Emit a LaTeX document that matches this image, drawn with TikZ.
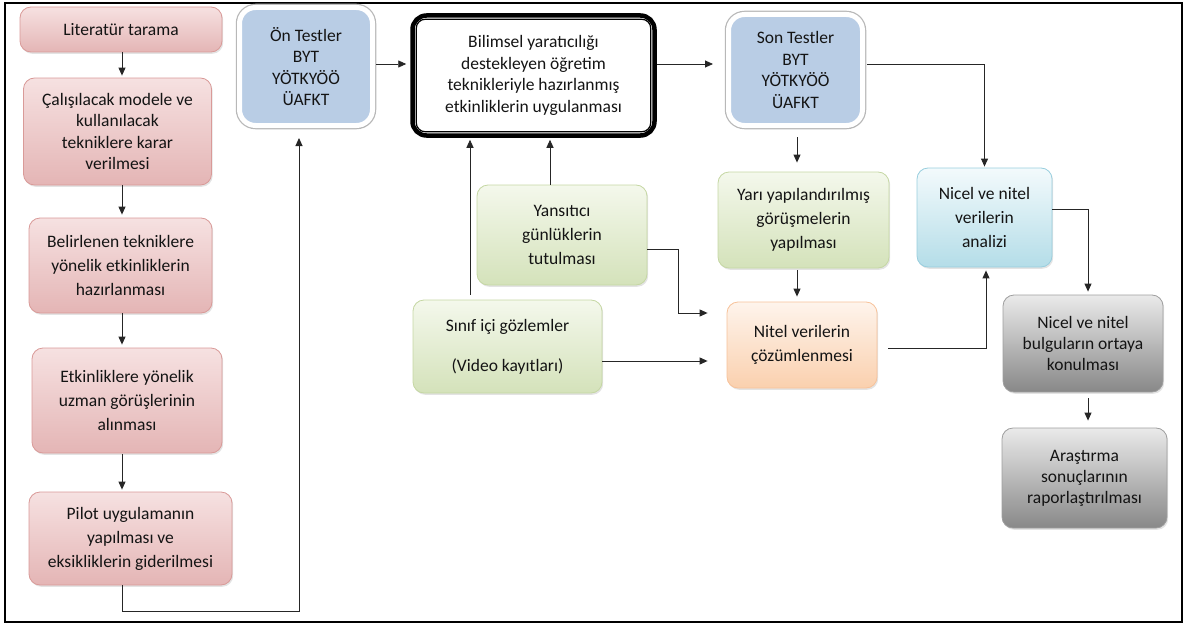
\documentclass[tikz,border=0pt]{standalone}
\usepackage{fontspec}
\setmainfont{Carlito}
\usetikzlibrary{arrows.meta,shadows}

\definecolor{pinktop}{HTML}{F6E1E1}
\definecolor{pinkbot}{HTML}{E4B5B5}
\definecolor{pinkline}{HTML}{D99A98}
\definecolor{greentop}{HTML}{F4F8EC}
\definecolor{greenbot}{HTML}{D4E2BA}
\definecolor{greenline}{HTML}{C5D7A3}
\definecolor{peachtop}{HTML}{FEF4EC}
\definecolor{peachbot}{HTML}{FAD0AE}
\definecolor{peachline}{HTML}{F7C29A}
\definecolor{cyantop}{HTML}{F3FAFC}
\definecolor{cyanbot}{HTML}{B4DDE8}
\definecolor{cyanline}{HTML}{98CEDE}
\definecolor{graytop}{HTML}{EAEAEA}
\definecolor{graybot}{HTML}{888888}
\definecolor{grayline}{HTML}{9E9E9E}
\definecolor{testblue}{HTML}{B9CDE5}

\begin{document}
\begin{tikzpicture}[x=1pt,y=-1pt,
  sz/.style 2 args={minimum width=#1pt, minimum height=#2pt},
  box/.style={rounded corners=11pt, inner sep=0pt, align=center,
    font=\fontsize{17.5}{24}\selectfont, text=black!92,
    drop shadow={shadow xshift=1.2pt, shadow yshift=-1.8pt, opacity=0.22}},
  tight/.style={font=\fontsize{17.5}{21.5}\selectfont},
  pinkbox/.style={box, draw=pinkline, line width=0.8pt, top color=pinktop, bottom color=pinkbot},
  greenbox/.style={box, draw=greenline, line width=0.8pt, top color=greentop, bottom color=greenbot},
  peachbox/.style={box, draw=peachline, line width=0.8pt, top color=peachtop, bottom color=peachbot},
  cyanbox/.style={box, draw=cyanline, line width=0.8pt, top color=cyantop, bottom color=cyanbot},
  graybox/.style={box, draw=grayline, line width=0.8pt, top color=graytop, bottom color=graybot},
  testbox/.style={box, tight, rounded corners=16pt, fill=testblue, draw=white, line width=5pt,
    preaction={draw=black!28, line width=7.5pt},
    drop shadow={shadow xshift=1.5pt, shadow yshift=-2.5pt, opacity=0.3}},
  mainbox/.style={box, tight, fill=white, draw=black, line width=4.5pt, rounded corners=14pt},
  arr/.style={draw=black!85, line width=0.9pt, -{Triangle[length=8pt,width=7pt]}}
]
\useasboundingbox (0,0) rectangle (1188,626);
\draw[line width=2pt] (5,3) rectangle (1182,622);

% left column: preparation steps
\node[pinkbox, sz={202}{45}] (lit) at (121,29.5) {Literatür tarama};
\node[pinkbox, tight, sz={188}{107}] (cal) at (117.5,131.5)
  {Çalışılacak modele ve\\kullanılacak\\tekniklere karar\\verilmesi};
\node[pinkbox, sz={183}{95}] (bel) at (120.5,265.5)
  {Belirlenen tekniklere\\yönelik etkinliklerin\\hazırlanması};
\node[pinkbox, sz={190}{105}] (etk) at (127,400.5)
  {Etkinliklere yönelik\\uzman görüşlerinin\\alınması};
\node[pinkbox, sz={203}{93}] (pil) at (130.5,538.5)
  {Pilot uygulamanın\\yapılması ve\\eksikliklerin giderilmesi};

% tests and implementation
\node[testbox, sz={133}{118}] (ont) at (306,66.5)
  {Ön Testler\\BYT\\YÖTKYÖÖ\\ÜAFKT};
\node[mainbox, sz={242}{120}] (bil) at (533.5,75.5)
  {Bilimsel yaratıcılığı\\destekleyen öğretim\\teknikleriyle hazırlanmış\\etkinliklerin uygulanması};
\draw[line width=1.2pt, rounded corners=9pt]
  ([shift={(6,6)}]bil.north west) rectangle ([shift={(-6,-6)}]bil.south east);
\node[testbox, sz={134}{111}] (son) at (795.5,70)
  {Son Testler\\BYT\\YÖTKYÖÖ\\ÜAFKT};

% qualitative data sources
\node[greenbox, sz={170}{100}] (yan) at (562,235)
  {Yansıtıcı\\günlüklerin\\tutulması};
\node[greenbox, sz={189}{93}] (sin) at (507.5,346.5)
  {Sınıf içi gözlemler\\[16pt](Video kayıtları)};
\node[greenbox, sz={171}{96}] (yar) at (803.5,220)
  {Yarı yapılandırılmış\\görüşmelerin\\yapılması};
\node[peachbox, sz={150}{86}] (nit) at (802,345)
  {\raisebox{11pt}{\parbox{145pt}{\centering Nitel verilerin\\çözümlenmesi}}};

% analysis and reporting
\node[cyanbox, sz={135}{99}] (nic) at (984.5,217.5)
  {Nicel ve nitel\\verilerin\\analizi};
\node[graybox, sz={160}{97}, font=\fontsize{17.5}{21}\selectfont] (bul) at (1083,343.5)
  {Nicel ve nitel\\bulguların ortaya\\konulması};
\node[graybox, sz={165}{100}, font=\fontsize{17.5}{21}\selectfont] (ara) at (1084.5,478)
  {Araştırma\\sonuçlarının\\raporlaştırılması};

% routing points
\coordinate (colx) at (122,0);
\coordinate (row) at (0,64);
\coordinate (pilturn) at (299,611);
\coordinate (sonx) at (797,0);
\coordinate (yanx) at (550,0);
\coordinate (sinx) at (470,0);
\coordinate (yanturn) at (678,249);
\coordinate (nitin) at (0,313);
\coordinate (sinrow) at (0,361);
\coordinate (nitrow) at (0,348);
\coordinate (nicx) at (986,0);
\coordinate (nicrow) at (0,209);
\coordinate (bulx) at (1088,0);

% connectors
\draw[arr, shorten >=2pt] (lit.south -| colx) -- (cal.north -| colx);
\draw[arr, shorten >=3pt] (cal.south -| colx) -- (bel.north -| colx);
\draw[arr, shorten >=3pt] (bel.south -| colx) -- (etk.north -| colx);
\draw[arr, shorten <=1pt, shorten >=2pt] (etk.south -| colx) -- (pil.north -| colx);
\draw[arr, shorten >=10pt] (pil.south -| colx) |- (pilturn) -- (pilturn |- ont.south);
\draw[arr, shorten <=1pt, shorten >=4pt] (ont.east |- row) -- (bil.west |- row);
\draw[arr, shorten >=13pt] (bil.east |- row) -- (son.west |- row);
\draw[arr, shorten <=2pt, shorten >=1pt] (son.east |- row) -| (nic.north);
\draw[arr, shorten <=9pt, shorten >=9pt] (son.south -| sonx) -- (yar.north -| sonx);
\draw[arr, shorten <=2pt, shorten >=5pt] (yar.south -| sonx) -- (nit.north -| sonx);
\draw[arr, shorten >=2pt] (yan.north -| yanx) -- (bil.south -| yanx);
\draw[arr, shorten <=5pt, shorten >=2pt] (sin.north -| sinx) -- (bil.south -| sinx);
\draw[arr, shorten >=19pt] (yan.east |- yanturn) -- (yanturn) |- (nit.west |- nitin);
\draw[arr, shorten >=19pt] (sin.east |- sinrow) -- (nit.west |- sinrow);
\draw[arr, shorten <=11pt, shorten >=3pt] (nit.east |- nitrow) -| (nic.south -| nicx);
\draw[arr, shorten >=3pt] (nic.east |- nicrow) -| (bul.north -| bulx);
\draw[arr, shorten <=6pt, shorten >=7pt] (bul.south -| bulx) -- (ara.north -| bulx);
\end{tikzpicture}
\end{document}
